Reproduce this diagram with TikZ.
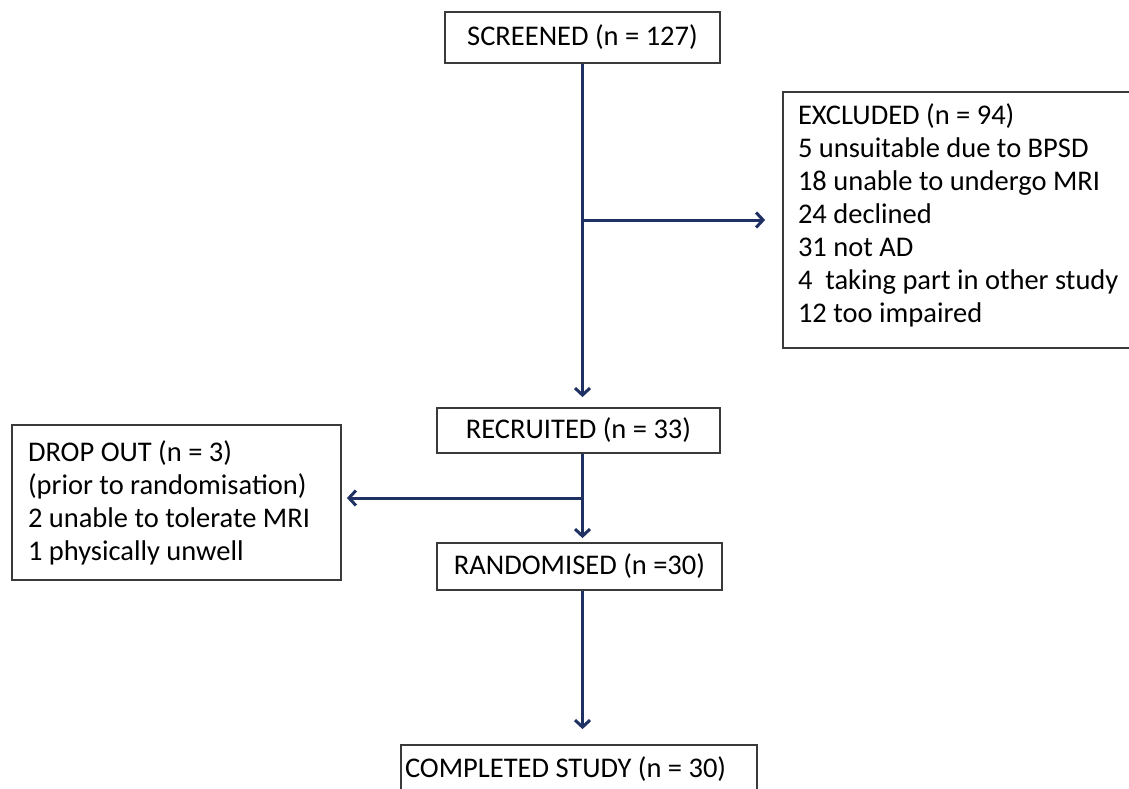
\documentclass[tikz,border=0pt]{standalone}
\usepackage{fontspec}
\setmainfont{Carlito}
\usetikzlibrary{arrows.meta}
\definecolor{navy}{HTML}{1F3163}
\definecolor{boxgray}{HTML}{3A3A3A}
\begin{document}
\begin{tikzpicture}[x=1pt,y=-1pt,
  box/.style={draw=boxgray, line width=1.8pt, inner ysep=0pt, inner xsep=2pt,
    font=\fontsize{28.5}{33}\selectfont},
  conn/.style={draw=navy, line width=3pt, -{Straight Barb[length=7pt,width=15pt]}}]
\useasboundingbox (0,0) rectangle (1129,789);
\node[box, minimum width=275pt, minimum height=51pt] (screened) at (582.5,37.5) {SCREENED (n = 127)};
\node[box, inner xsep=15pt, text width=360pt, align=flush left, minimum height=256pt] (excluded) at (978,220)
  {EXCLUDED (n = 94)\\5 unsuitable due to BPSD\\18 unable to undergo MRI\\24 declined\\31 not AD\\4 \ taking part in other study\\12 too impaired\rule[-14pt]{0pt}{0pt}};
\node[box, minimum width=283pt, minimum height=45pt] (recruited) at (578.5,430.5) {RECRUITED (n = 33)};
\node[box, inner xsep=16pt, text width=297pt, align=flush left, minimum height=155pt] (dropout) at (176.5,502.5)
  {DROP OUT (n = 3)\\(prior to randomisation)\\2 unable to tolerate MRI\\1 physically unwell};
\node[box, minimum width=285pt, minimum height=47pt] (randomised) at (579.5,566.5) {RANDOMISED (n =30)};
\node[box, inner xsep=4pt, text width=348pt, align=flush left, minimum height=48pt] (completed) at (579,769) {COMPLETED STUDY (n = 30)};
\coordinate (b1) at (screened.south |- excluded.west);
\coordinate (b2) at (582.5,498);
\draw[conn, shorten >=10pt] (screened.south) -- (screened.south |- recruited.north);
\draw[conn, shorten >=17pt] (b1) -- (excluded.west);
\draw[conn, shorten >=4pt] (screened.south |- recruited.south) -- (screened.south |- randomised.north);
\draw[conn, shorten >=5pt] (b2) -- (b2 -| dropout.east);
\draw[conn, shorten >=15pt] (screened.south |- randomised.south) -- (screened.south |- completed.north);
\end{tikzpicture}
\end{document}
